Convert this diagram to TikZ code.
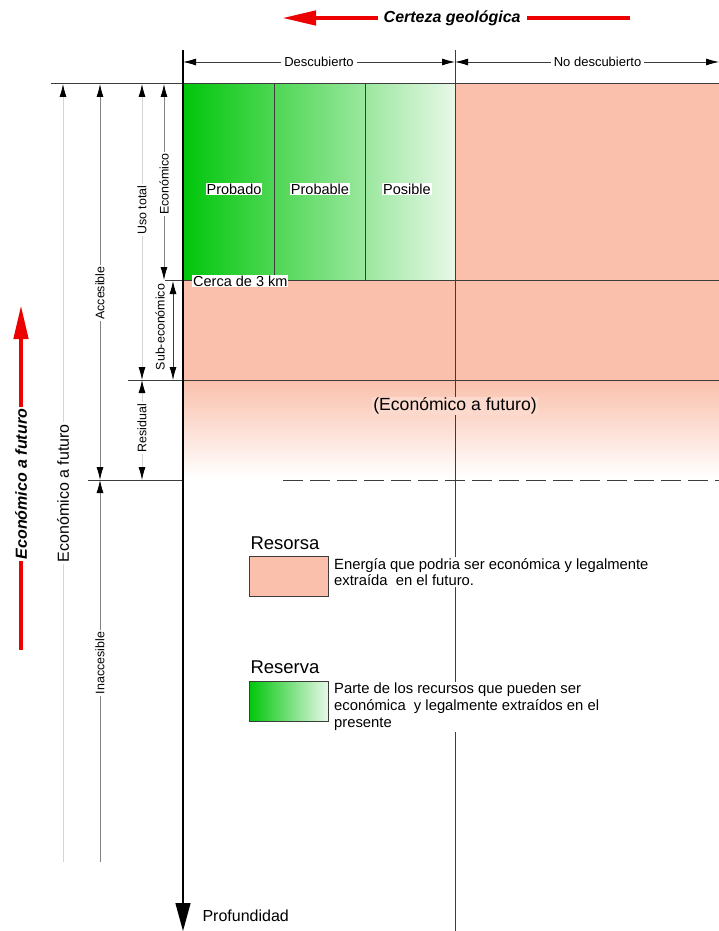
\documentclass[tikz,border=0pt]{standalone}
\usepackage{fontspec}
\setmainfont{Liberation Sans}
\usetikzlibrary{arrows.meta}
\definecolor{salmon}{RGB}{250,192,172}
\definecolor{verde}{RGB}{0,198,10}
\definecolor{verdeclaro}{RGB}{232,248,232}
\definecolor{rojo}{RGB}{236,0,0}
\definecolor{linea}{RGB}{60,60,60}
\definecolor{gris}{RGB}{130,130,130}
\definecolor{grisclaro}{RGB}{212,212,212}
\begin{document}
\begin{tikzpicture}[x=1pt,y=-1pt,
    >={Latex[length=13pt,width=7pt,color=black]},
    borde/.style={draw=linea,line width=1pt},
    cota/.style={line width=0.8pt},
    lbl/.style={fill=white,inner sep=1pt,font=\fontsize{14.5}{17}\selectfont},
    dimlbl/.style={fill=white,inner sep=1.5pt,rotate=90,font=\fontsize{12.4}{14}\selectfont},
    grande/.style={font=\fontsize{18.5}{22}\selectfont},
    txt/.style={fill=white,inner sep=1pt,align=left,font=\fontsize{14.8}{16.8}\selectfont},
    flecha/.style={draw=rojo,line width=4.5pt,-{Triangle[length=34pt,width=14pt]}},
    titulo/.style={fill=white,inner xsep=6pt,inner ysep=1pt,text=black,font=\fontsize{16}{19}\selectfont\bfseries\itshape}]
  \useasboundingbox (0,0) rectangle (719,931);
  \fill[salmon] (455,84) rectangle (719,380);
  \fill[salmon] (183,280) rectangle (455,380);
  \shade[left color=verde,right color=verdeclaro] (183,84) rectangle (455,280);
  \shade[top color=salmon,bottom color=white] (183,380) rectangle (719,478);

  \draw[borde] (51,84) -- (719,84);
  \draw[borde] (165,280) -- (719,280);
  \draw[borde] (128,380) -- (719,380);
  \draw[borde] (88,480) -- (183,480);
  \draw[borde,dash pattern=on 20pt off 7pt] (283,480) -- (719,480);
  \draw[borde] (274,84) -- (274,280);
  \draw[borde] (365,84) -- (365,280);
  \draw[borde] (455,50) -- (455,931);
  \draw[line width=1.4pt,-{Triangle[length=28pt,width=15pt]}] (183,50) -- (183,931);

  \coordinate (d1) at (183,62);
  \coordinate (d2) at (455,62);
  \coordinate (d3) at (719,62);
  \draw[cota,draw=linea,<->] (d1) -- (d2) node[midway,lbl,font=\fontsize{13}{15}\selectfont,inner xsep=3pt] (des) {Descubierto};
  \draw[cota,draw=linea,<->] (d2) -- (d3) node[pos=0.54,lbl,font=\fontsize{13}{15}\selectfont,inner xsep=3pt] (nodes) {No descubierto};

  \coordinate (a1) at (63,84);
  \coordinate (a2) at (63,862);
  \draw[cota,draw=grisclaro,<-] (a1) -- (a2) node[pos=0.526,fill=white,inner sep=2pt,rotate=90,font=\fontsize{16}{19}\selectfont] (ef) {Económico a futuro};
  \coordinate (b1) at (100,84);
  \coordinate (b2) at (100,480);
  \coordinate (b3) at (100,862);
  \draw[cota,draw=gris,<->] (b1) -- (b2) node[pos=0.528,dimlbl] (acc) {Accesible};
  \draw[cota,draw=gris,<-] (b2) -- (b3) node[pos=0.479,dimlbl] (inacc) {Inaccesible};
  \coordinate (c1) at (142,84);
  \coordinate (c2) at (142,380);
  \coordinate (c3) at (142,480);
  \draw[cota,draw=grisclaro,<->] (c1) -- (c2) node[pos=0.426,dimlbl] (uso) {Uso total};
  \draw[cota,draw=grisclaro,<->] (c2) -- (c3) node[pos=0.48,dimlbl] (res) {Residual};
  \coordinate (e1) at (164,84);
  \coordinate (e2) at (164,280);
  \draw[cota,draw=gris,<->] (e1) -- (e2) node[pos=0.51,dimlbl] (eco) {Económico};
  \coordinate (s1) at (173,281);
  \coordinate (s2) at (173,380);
  \draw[cota,draw=linea,<->] (s1) -- (s2);
  \node[dimlbl,fill=none] (sub) at (160,327) {Sub-económico};

  \node[lbl] (p1) at (234,189) {Probado};
  \node[lbl] (p2) at (320,189) {Probable};
  \node[lbl] (p3) at (407,189) {Posible};
  \node[lbl,anchor=west] (km) at (192,281) {Cerca de 3 km};
  \node[lbl,fill=salmon!60!white,font=\fontsize{17.6}{20}\selectfont] (fut) at (455,406) {(Económico a futuro)};
  \node[anchor=west,font=\fontsize{16}{19}\selectfont] (prof) at (199,916) {Profundidad};

  \coordinate (r1) at (630,18);
  \coordinate (r2) at (282,18);
  \draw[flecha] (r1) -- (r2) node[pos=0.511,titulo] (cg) {Certeza geológica};
  \coordinate (r3) at (21,650);
  \coordinate (r4) at (21,305);
  \draw[flecha] (r3) -- (r4) node[pos=0.481,titulo,rotate=90,inner xsep=2pt] (ea) {Económico a futuro};

  \node[grande,anchor=west] (rs) at (247,543) {Resorsa};
  \draw[draw=linea,line width=1pt,fill=salmon] (249,556) rectangle (328,596);
  \node[txt,anchor=north west] (t1) at (333,557) {Energía que podria ser económica y legalmente\\extraída\ \ en el futuro.};
  \node[grande,anchor=west] (rv) at (247,667) {Reserva};
  \shadedraw[draw=linea,line width=1pt,left color=verde,right color=verdeclaro] (249,681) rectangle (328,721);
  \node[txt,anchor=north west] (t2) at (333,682) {Parte de los recursos que pueden ser\\económica\ \ y legalmente extraídos en el\\presente};
\end{tikzpicture}
\end{document}
